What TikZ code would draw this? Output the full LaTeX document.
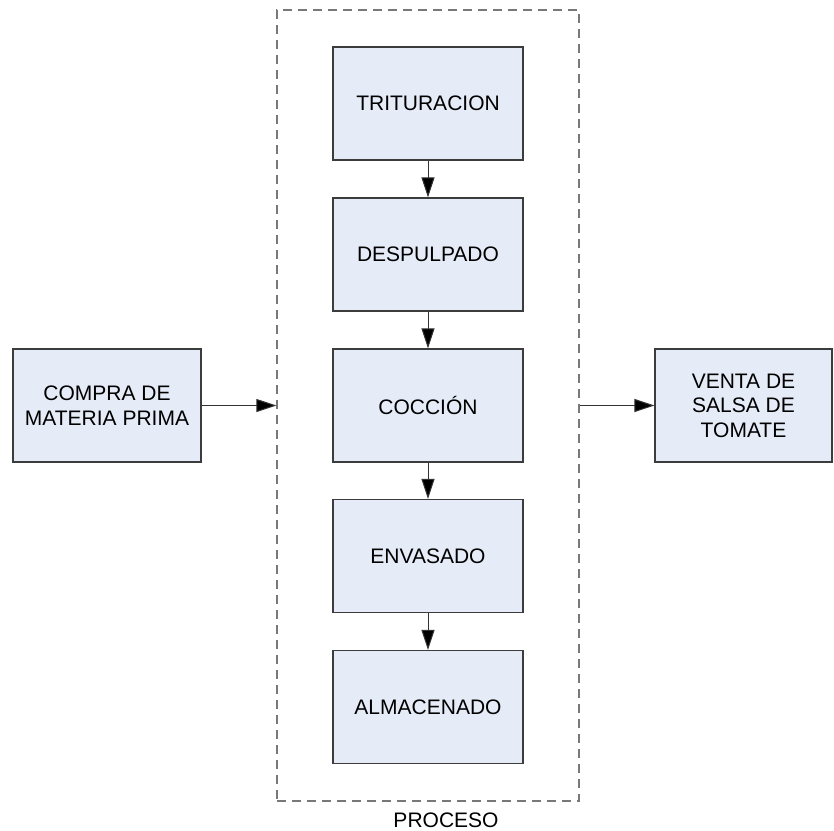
\documentclass[tikz,border=0pt]{standalone}
\usepackage{fontspec}
\setmainfont{Liberation Sans}
\usetikzlibrary{arrows.meta}
\definecolor{boxfill}{RGB}{230,236,247}
\definecolor{boxline}{RGB}{60,60,60}
\definecolor{dashline}{RGB}{120,120,120}
\begin{document}
\begin{tikzpicture}[x=1pt,y=-1pt,
  every node/.style={font=\fontsize{21}{24.5}\selectfont},
  stepbox/.style={draw=boxline, line width=1.1pt, fill=boxfill, minimum width=190pt, minimum height=113pt, inner sep=0pt, align=center},
  sidebox/.style={stepbox, minimum width=188pt},
  procbox/.style={draw=dashline, line width=1.3pt, dash pattern=on 9pt off 6pt, minimum width=302pt, minimum height=791pt, inner sep=0pt},
  conn/.style={draw=black!80, line width=1pt, -{Triangle[length=20pt,width=13pt,fill=black]}}
]
\useasboundingbox (0,0) rectangle (834,830);
\node[procbox] (proc) at (428,405.5) {};
\node[anchor=base] (proclabel) at (446,827) {PROCESO};
\node[stepbox] (trit) at (428,103.5) {TRITURACION};
\node[stepbox] (desp) at (428,254.5) {DESPULPADO};
\node[stepbox] (cocc) at (428,405.5) {COCCIÓN};
\node[stepbox] (env) at (428,556) {ENVASADO};
\node[stepbox] (alm) at (428,707) {ALMACENADO};
\node[sidebox] (compra) at (107,405.5) {COMPRA DE\\MATERIA PRIMA};
\node[stepbox, minimum width=177pt] (venta) at (743.5,405.5) {VENTA DE\\SALSA DE\\TOMATE};
\draw[conn] (trit) -- (desp);
\draw[conn] (desp) -- (cocc);
\draw[conn] (cocc) -- (env);
\draw[conn] (env) -- (alm);
\draw[conn] (compra) -- (proc);
\draw[conn] (proc.east) -- (venta);
\end{tikzpicture}
\end{document}
